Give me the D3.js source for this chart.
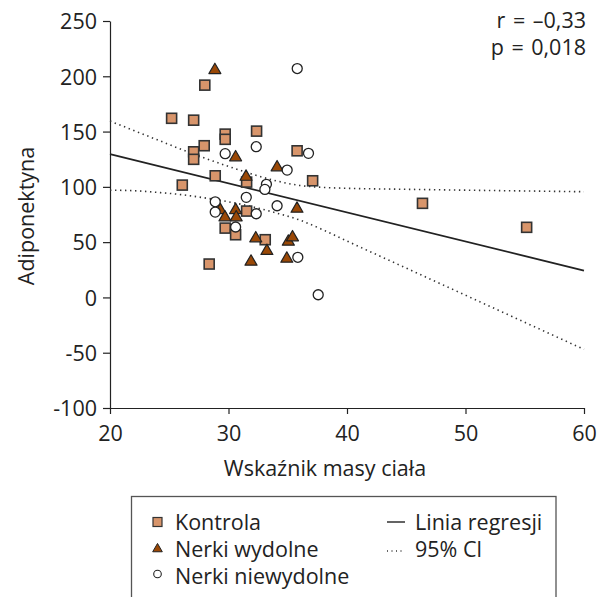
<!DOCTYPE html>
<html><head><meta charset="utf-8">
<script src="https://cdn.jsdelivr.net/npm/d3@7"></script>
<style>
body{margin:0;background:#fff;}
text{font-family:"Open Sans",sans-serif;fill:#222;}
</style></head>
<body><svg id="c" width="598" height="597"></svg>
<script>
// Data
const kontrolaBMI = [25.2, 27.06, 28.0, 29.72, 29.72, 32.37, 27.95, 27.06, 27.06, 35.79, 28.88, 37.1, 31.53, 26.1, 31.53, 29.72, 30.6, 33.1, 28.37, 46.37, 55.16];
const kontrolaAdipo = [162, 160.3, 192, 147.7, 143, 150.4, 137.2, 131.7, 124.9, 132.6, 110, 105.5, 104.3, 101.6, 78.1, 62.7, 56.7, 52.2, 30.2, 85.1, 63.4];
const wydolneBMI = [28.85, 30.6, 34.1, 31.48, 29.3, 30.6, 29.7, 30.65, 35.78, 32.3, 35.05, 35.4, 33.24, 31.9, 34.92];
const wydolneAdipo = [205.6, 126.7, 117.6, 109.1, 79.0, 79.0, 72.4, 72.4, 80.2, 53.4, 50.4, 54.3, 42.0, 32.3, 35.0];
const niewydolneBMI = [35.8, 29.72, 32.34, 36.75, 34.95, 33.2, 33.07, 28.88, 28.88, 31.5, 32.34, 34.1, 30.6, 35.85, 37.57];
const niewydolneAdipo = [207, 130, 136.3, 130.3, 115.2, 102.3, 97.7, 86.5, 77.2, 90.5, 75.7, 82.9, 63.7, 36.3, 2.4];

const regX = [20, 60];
const regY = [129.5, 24.3];
const ciX = [20, 22, 24, 26, 28, 30, 32, 34, 36, 38, 40, 45, 50, 55, 60];
const ciUpper = [159.5, 151, 142.5, 134, 126, 118.5, 111.5, 105.5, 101.3, 99.5, 98.7, 97.8, 97.0, 96.3, 95.6];
const ciLower = [97, 96.5, 95, 93, 90, 86.5, 82, 76.5, 70, 61, 51, 26.5, 2, -22.5, -47];

const xTicks = [20, 30, 40, 50, 60];
const yTicks = [-100, -50, 0, 50, 100, 150, 200, 250];
const statsText = ["r = \u20130,33", "p = 0,018"];
const legendLeft = ["Kontrola", "Nerki wydolne", "Nerki niewydolne"];
const legendRight = ["Linia regresji", "95% Cl"];
const xLabel = "Wskaźnik masy ciała";
const yLabel = "Adiponektyna";

const FS = "21.5px";
const svg = d3.select("#c");
const x = d3.scaleLinear().domain([20, 60]).range([110, 584]);
const y = d3.scaleLinear().domain([-100, 250]).range([408, 21]);

const sqFill = "#d8956b", triFill = "#9a4806", ink = "#222";

// axes
const fmt = d => String(d);
const gx = svg.append("g").attr("transform", "translate(0,408)")
  .call(d3.axisBottom(x).tickValues(xTicks).tickFormat(fmt).tickSize(6).tickSizeOuter(0).tickPadding(8));
const gy = svg.append("g").attr("transform", "translate(110,0)")
  .call(d3.axisLeft(y).tickValues(yTicks).tickFormat(fmt).tickSize(7).tickSizeOuter(0).tickPadding(6));
[gx, gy].forEach(g => {
  g.selectAll("path,line").attr("stroke", ink).attr("stroke-width", 1.2);
  g.selectAll("text").style("font-size", FS).style("font-family", '"Open Sans",sans-serif').attr("fill", ink);
});
gx.selectAll("text").attr("dy", "0.9em");
gy.selectAll("text").attr("dy", "0.36em");

svg.append("text").attr("x", 325).attr("y", 476).attr("text-anchor", "middle")
  .style("font-size", FS).text(xLabel);
svg.append("text").attr("transform", "translate(34,216) rotate(-90)").attr("text-anchor", "middle")
  .style("font-size", FS).text(yLabel);

// stats
statsText.forEach((t, i) => {
  svg.append("text").attr("x", 586).attr("y", 28 + i * 27).attr("text-anchor", "end")
    .style("font-size", FS).style("word-spacing", "2px").text(t);
});

// CI lines
const ciLine = d3.line().x(d => x(d[0])).y(d => y(d[1])).curve(d3.curveMonotoneX);
[ciUpper, ciLower].forEach(arr => {
  svg.append("path").datum(ciX.map((v, i) => [v, arr[i]]))
    .attr("d", ciLine).attr("fill", "none").attr("stroke", "#333")
    .attr("stroke-width", 1.6).attr("stroke-dasharray", "1.4,3.6");
});
// regression line
svg.append("path").datum(regX.map((v, i) => [v, regY[i]]))
  .attr("d", d3.line().x(d => x(d[0])).y(d => y(d[1])))
  .attr("fill", "none").attr("stroke", ink).attr("stroke-width", 1.8);

// markers
const sq = 10;
svg.append("g").selectAll("rect").data(kontrolaBMI.map((v, i) => [v, kontrolaAdipo[i]]))
  .join("rect").attr("x", d => x(d[0]) - sq / 2).attr("y", d => y(d[1]) - sq / 2)
  .attr("width", sq).attr("height", sq).attr("fill", sqFill).attr("stroke", "#333").attr("stroke-width", 1.6);
const tri = d3.symbol().type(d3.symbolTriangle).size(62);
svg.append("g").selectAll("path").data(wydolneBMI.map((v, i) => [v, wydolneAdipo[i]]))
  .join("path").attr("d", tri).attr("transform", d => `translate(${x(d[0])},${y(d[1])})`)
  .attr("fill", triFill).attr("stroke", "#222").attr("stroke-width", 1.2).attr("stroke-linejoin", "round");
svg.append("g").selectAll("circle").data(niewydolneBMI.map((v, i) => [v, niewydolneAdipo[i]]))
  .join("circle").attr("cx", d => x(d[0])).attr("cy", d => y(d[1])).attr("r", 5)
  .attr("fill", "#fff").attr("stroke", "#222").attr("stroke-width", 1.3);

// legend
const lg = svg.append("g");
lg.append("rect").attr("x", 131.5).attr("y", 496.5).attr("width", 424.5).attr("height", 110)
  .attr("fill", "#fff").attr("stroke", "#555").attr("stroke-width", 1.3);
const rowY = [522, 549, 576];
lg.append("rect").attr("x", 153).attr("y", rowY[0] - 4.5).attr("width", 9).attr("height", 9)
  .attr("fill", sqFill).attr("stroke", "#333").attr("stroke-width", 1.2);
lg.append("path").attr("d", d3.symbol().type(d3.symbolTriangle).size(40))
  .attr("transform", `translate(157.5,${rowY[1]})`).attr("fill", triFill).attr("stroke", "#222").attr("stroke-width", 1);
lg.append("circle").attr("cx", 157.5).attr("cy", rowY[2] - 2).attr("r", 3.8)
  .attr("fill", "#fff").attr("stroke", "#222").attr("stroke-width", 1.1);
legendLeft.forEach((t, i) => {
  lg.append("text").attr("x", 175).attr("y", rowY[i] + 7.5).style("font-size", FS).text(t);
});
lg.append("line").attr("x1", 387).attr("x2", 405).attr("y1", rowY[0]).attr("y2", rowY[0])
  .attr("stroke", ink).attr("stroke-width", 1.4);
lg.append("line").attr("x1", 387).attr("x2", 405).attr("y1", rowY[1] + 2).attr("y2", rowY[1] + 2)
  .attr("stroke", "#333").attr("stroke-width", 1.3).attr("stroke-dasharray", "1,3.5");
legendRight.forEach((t, i) => {
  lg.append("text").attr("x", 415).attr("y", rowY[i] + 7.5).style("font-size", FS).text(t);
});
</script></body></html>
